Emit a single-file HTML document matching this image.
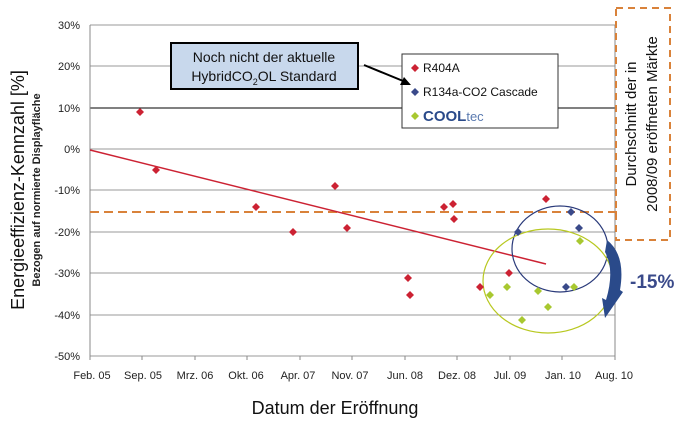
<!DOCTYPE html>
<html><head><meta charset="utf-8"><style>body{margin:0;background:#fff}</style></head><body>
<svg width="682" height="421" xmlns="http://www.w3.org/2000/svg" font-family="Liberation Sans, sans-serif">
<rect width="682" height="421" fill="#fff"/>
<g stroke="#999" stroke-width="1">
<line x1="90" y1="25" x2="615" y2="25"/><line x1="90" y1="66" x2="615" y2="66"/>
<line x1="90" y1="149" x2="615" y2="149"/><line x1="90" y1="190" x2="615" y2="190"/>
<line x1="90" y1="232" x2="615" y2="232"/><line x1="90" y1="273" x2="615" y2="273"/>
<line x1="90" y1="315" x2="615" y2="315"/><line x1="90" y1="356" x2="615" y2="356"/>
</g>
<line x1="90" y1="108" x2="615" y2="108" stroke="#000"/>
<line x1="90" y1="25" x2="90" y2="356" stroke="#888"/>
<line x1="615" y1="25" x2="615" y2="360" stroke="#888"/>
<g stroke="#888"><line x1="90" y1="356" x2="90" y2="360"/><line x1="142" y1="356" x2="142" y2="360"/><line x1="195" y1="356" x2="195" y2="360"/><line x1="247" y1="356" x2="247" y2="360"/><line x1="300" y1="356" x2="300" y2="360"/><line x1="352" y1="356" x2="352" y2="360"/><line x1="405" y1="356" x2="405" y2="360"/><line x1="457" y1="356" x2="457" y2="360"/><line x1="510" y1="356" x2="510" y2="360"/><line x1="562" y1="356" x2="562" y2="360"/></g>
<g font-size="11" fill="#222" text-anchor="end">
<text x="80" y="29">30%</text><text x="80" y="70">20%</text><text x="80" y="112">10%</text><text x="80" y="153">0%</text><text x="80" y="194">-10%</text><text x="80" y="236">-20%</text><text x="80" y="277">-30%</text><text x="80" y="319">-40%</text><text x="80" y="360">-50%</text>
</g>
<g font-size="11" fill="#222" text-anchor="middle">
<text x="92" y="379">Feb. 05</text><text x="143" y="379">Sep. 05</text><text x="195" y="379">Mrz. 06</text><text x="246" y="379">Okt. 06</text><text x="298" y="379">Apr. 07</text><text x="350" y="379">Nov. 07</text><text x="405" y="379">Jun. 08</text><text x="457" y="379">Dez. 08</text><text x="510" y="379">Jul. 09</text><text x="563" y="379">Jan. 10</text><text x="614" y="379">Aug. 10</text>
</g>
<text x="335" y="414" font-size="18" text-anchor="middle" fill="#111">Datum der Eröffnung</text>
<text transform="translate(24,190) rotate(-90)" font-size="18" text-anchor="middle" fill="#111">Energieeffizienz-Kennzahl [%]</text>
<text transform="translate(40,190) rotate(-90)" font-size="11" font-weight="bold" text-anchor="middle" fill="#222">Bezogen auf normierte Displayfläche</text>
<line x1="90" y1="212" x2="617" y2="212" stroke="#d9823a" stroke-width="2" stroke-dasharray="9,5"/>
<rect x="616" y="8" width="54" height="232" fill="none" stroke="#d9823a" stroke-width="2" stroke-dasharray="7,5"/>
<text transform="translate(636,124) rotate(-90)" font-size="15" text-anchor="middle" fill="#111">Durchschnitt der in</text>
<text transform="translate(657,124) rotate(-90)" font-size="15" text-anchor="middle" fill="#111">2008/09 eröffneten Märkte</text>
<line x1="90" y1="150" x2="546" y2="264" stroke="#cc2233" stroke-width="1.5"/>
<ellipse cx="560" cy="249" rx="48" ry="43" fill="none" stroke="#2a3a7a" stroke-width="1.2"/>
<ellipse cx="548" cy="281" rx="65" ry="52" fill="none" stroke="#b8c820" stroke-width="1.2"/>
<defs><path id="d" d="M0,-4 L4,0 L0,4 L-4,0Z"/></defs>
<g fill="#cc2233">
<use href="#d" x="140" y="112"/><use href="#d" x="156" y="170"/><use href="#d" x="256" y="207"/><use href="#d" x="293" y="232"/><use href="#d" x="335" y="186"/><use href="#d" x="347" y="228"/><use href="#d" x="408" y="278"/><use href="#d" x="410" y="295"/><use href="#d" x="444" y="207"/><use href="#d" x="453" y="204"/><use href="#d" x="454" y="219"/><use href="#d" x="480" y="287"/><use href="#d" x="509" y="273"/><use href="#d" x="546" y="199"/>
</g>
<g fill="#3a4a8a"><use href="#d" x="518" y="232"/><use href="#d" x="571" y="212"/><use href="#d" x="579" y="228"/><use href="#d" x="566" y="287"/></g>
<g fill="#a8c830"><use href="#d" x="580" y="241"/><use href="#d" x="490" y="295"/><use href="#d" x="507" y="287"/><use href="#d" x="538" y="291"/><use href="#d" x="522" y="320"/><use href="#d" x="548" y="307"/><use href="#d" x="574" y="287"/></g>
<path d="M607,240 Q626,255 620,290 L623,292 L605,318 L602,298 L606,300 Q615,270 605,252 Z" fill="#2a4a8a"/>
<text x="630" y="288" font-size="19" font-weight="bold" fill="#3a4a8a">-15%</text>
<rect x="171" y="43" width="187" height="46" fill="#c8d8ec" stroke="#000" stroke-width="2"/>
<text x="264" y="62" font-size="14" text-anchor="middle" fill="#111">Noch nicht der aktuelle</text>
<text x="264" y="81" font-size="14" text-anchor="middle" fill="#111">HybridCO<tspan font-size="9" dy="4">2</tspan><tspan dy="-4">OL Standard</tspan></text>
<rect x="402" y="54" width="156" height="74" fill="#fff" stroke="#333"/>
<line x1="364" y1="65" x2="408" y2="83" stroke="#000" stroke-width="2"/>
<path d="M411,85 L400,85 L404,77Z" fill="#000"/>
<g font-size="12" fill="#111">
<use href="#d" x="415" y="68" fill="#cc2233" transform="scale(1)"/><text x="423" y="72">R404A</text>
<use href="#d" x="415" y="92" fill="#3a4a8a"/><text x="423" y="96">R134a-CO2 Cascade</text>
<use href="#d" x="415" y="116" fill="#a8c830"/><text x="423" y="121" font-size="15" font-weight="bold" fill="#2a4a8a">COOL<tspan font-weight="normal" font-size="13" fill="#5a7ab0">tec</tspan></text>
</g>
</svg>
</body></html>
